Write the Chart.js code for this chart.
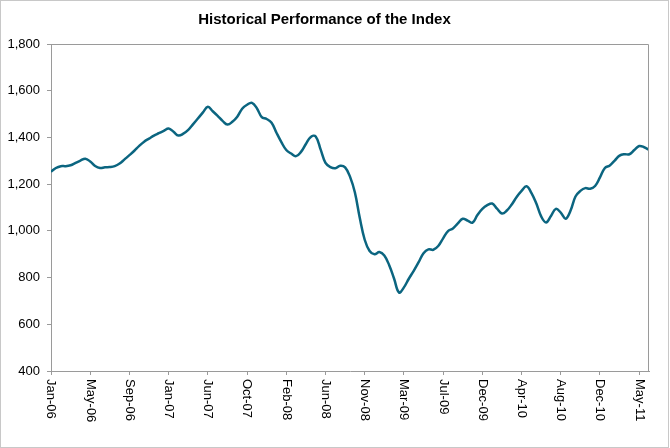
<!DOCTYPE html>
<html>
<head>
<meta charset="utf-8">
<script src="https://cdn.jsdelivr.net/npm/chart.js@4/dist/chart.umd.min.js"></script>
<style>
body{margin:0;background:#fff;}
</style>
</head>
<body>
<canvas id="indexChart" width="670" height="448"></canvas>
<script>
// points per tick label
const labelStep=8;
const tickLabels=["Jan-06","May-06","Sep-06","Jan-07","Jun-07","Oct-07","Feb-08","Jun-08","Nov-08","Mar-09","Jul-09","Dec-09","Apr-10","Aug-10","Dec-10","May-11"];
const indexValues=[
    1253,1269,1277,1277,1281,1291,1301,1309,1297,1278,
    1269,1272,1273,1277,1288,1306,1324,1343,1364,1382,
    1395,1408,1418,1428,1438,1424,1408,1416,1432,1457,
    1482,1507,1531,1512,1492,1471,1455,1467,1489,1523,
    1540,1548,1525,1487,1479,1463,1420,1380,1346,1331,
    1320,1338,1372,1402,1404,1349,1291,1273,1268,1279,
    1272,1232,1164,1055,962,914,900,909,894,853,
    795,736,758,795,829,866,904,921,919,935,
    968,999,1010,1032,1052,1044,1035,1068,1094,1110,
    1117,1095,1074,1087,1113,1145,1171,1191,1163,1118,
    1062,1036,1064,1094,1078,1052,1087,1147,1171,1183,
    1180,1192,1229,1269,1280,1301,1322,1328,1328,1346,
    1363,1358,1347
];
const yMin=400;
const yMax=1800;
const yStep=200;

const fontFamily="'Liberation Sans', Arial, sans-serif";
const axisGray="#9a9a9a";

const framePlugin={
    id:'frame',
    beforeDraw(chart){
        const ctx=chart.ctx;
        ctx.save();
        ctx.fillStyle="#fff";
        ctx.fillRect(0,0,chart.width,chart.height);
        ctx.strokeStyle="#c8c8c8";
        ctx.lineWidth=1;
        ctx.strokeRect(0.5,0.5,668,447);
        ctx.restore();
    },
    afterDraw(chart){
        const ctx=chart.ctx;
        const a=chart.chartArea;
        ctx.save();
        ctx.strokeStyle=axisGray;
        ctx.lineWidth=1;
        ctx.beginPath();
        ctx.moveTo(Math.round(a.left)+0.5,Math.round(a.top)+0.5);
        ctx.lineTo(Math.round(a.right)-0.5,Math.round(a.top)+0.5);
        ctx.lineTo(Math.round(a.right)-0.5,Math.round(a.bottom));
        ctx.stroke();

        // x labels read top to bottom
        const xScale=chart.scales.x;
        ctx.fillStyle="#000";
        ctx.font="13px "+fontFamily;
        ctx.textAlign="left";
        ctx.textBaseline="middle";
        tickLabels.forEach((label,i)=>{
            const x=xScale.getPixelForValue(i*labelStep);
            ctx.save();
            ctx.translate(x,a.bottom+8);
            ctx.rotate(Math.PI/2);
            ctx.fillText(label,0,0);
            ctx.restore();
        });
        ctx.restore();
    }
};

const ctx=document.getElementById('indexChart').getContext('2d');
new Chart(ctx,{
    type:'line',
    data:{
        labels:indexValues.map((v,i)=>i),
        datasets:[{
            data:indexValues.map((v,i)=>({x:i,y:v})),
            borderColor:"#0b6580",
            borderWidth:2.5,
            pointRadius:0,
            tension:0.4,
            fill:false
        }]
    },
    options:{
        responsive:false,
        animation:false,
        devicePixelRatio:1,
        layout:{padding:{left:0,right:21,top:0,bottom:0}},
        plugins:{
            legend:{display:false},
            tooltip:{enabled:false},
            title:{
                display:true,
                text:"Historical Performance of the Index",
                color:"#000",
                font:{family:fontFamily,size:15,weight:'bold'},
                padding:{top:11,bottom:15}
            }
        },
        scales:{
            x:{
                type:'linear',
                min:0,
                max:indexValues.length-1,
                afterBuildTicks(scale){
                    scale.ticks=tickLabels.map((l,i)=>({value:i*labelStep}));
                },
                afterFit(scale){
                    scale.height=77;
                },
                ticks:{display:false},
                grid:{display:true,drawOnChartArea:false,drawTicks:true,tickLength:4,color:axisGray},
                border:{display:true,color:axisGray}
            },
            y:{
                min:yMin,
                max:yMax,
                afterFit(scale){
                    scale.width=51;
                },
                ticks:{
                    stepSize:yStep,
                    padding:7,
                    color:"#000",
                    font:{family:fontFamily,size:13},
                    callback:function(value){
                        return value.toLocaleString('en-US');
                    }
                },
                grid:{display:true,drawOnChartArea:false,drawTicks:true,tickLength:4,color:axisGray},
                border:{display:true,color:axisGray}
            }
        }
    },
    plugins:[framePlugin]
});
</script>
</body>
</html>
